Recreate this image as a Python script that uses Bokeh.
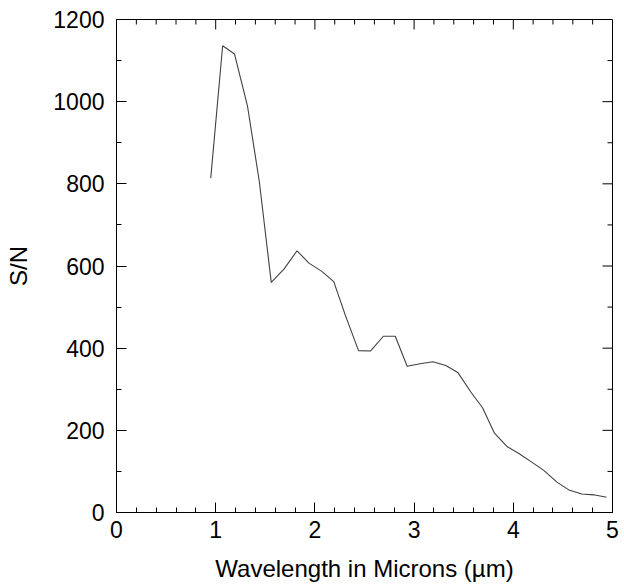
import math
from bokeh.plotting import figure
from bokeh.models import Range1d, LinearAxis, SingleIntervalTicker
from bokeh.embed import file_html
from bokeh.resources import INLINE

wavelength = [0.95, 1.07, 1.19, 1.32, 1.44, 1.56, 1.69, 1.82, 1.94, 2.07, 2.19, 2.31,
              2.44, 2.56, 2.69, 2.81, 2.93, 3.06, 3.19, 3.32, 3.44, 3.57, 3.69, 3.81,
              3.94, 4.06, 4.19, 4.31, 4.44, 4.56, 4.69, 4.81, 4.94]
snr = [814, 1136, 1116, 990, 805, 560, 593, 637, 607, 587, 562, 478,
       394, 393, 429, 429, 356, 362, 367, 358, 341, 294, 255, 193,
       160, 143, 122, 102, 74, 55, 45, 43, 37]

x_major = [0, 1, 2, 3, 4, 5]
y_major = [0, 200, 400, 600, 800, 1000, 1200]
x_minor = [round(a + 0.2 * k, 2) for a in x_major[:-1] for k in range(1, 5)]
y_minor = [a + 100 for a in y_major[:-1]]

x_title = "Wavelength in Microns (µm)"
y_title = "S/N"

FONT = "Liberation Sans"
X0, X1 = 0, 5
Y0, Y1 = 0, 1200

p = figure(width=620, height=584, output_backend="svg", toolbar_location=None,
           x_range=Range1d(X0, X1), y_range=Range1d(Y0, Y1),
           x_axis_location=None, y_axis_location=None,
           min_border_left=116, min_border_right=8, min_border_top=19, min_border_bottom=72)
p.grid.visible = False
p.outline_line_color = "black"
p.background_fill_color = "white"
p.border_fill_color = "white"

def style(ax):
    ax.axis_line_color = "black"
    ax.axis_line_width = 1
    ax.major_tick_in = 10
    ax.major_tick_out = 0
    ax.minor_tick_in = 5
    ax.minor_tick_out = 0
    ax.major_tick_line_color = "black"
    ax.minor_tick_line_color = "black"
    ax.major_label_text_font = FONT
    ax.major_label_text_color = "black"
    ax.major_label_text_font_size = "23px"
    ax.axis_label_text_font = FONT
    ax.axis_label_text_font_style = "normal"
    ax.axis_label_text_color = "black"
    ax.axis_label_text_font_size = "24px"

xb = LinearAxis(ticker=SingleIntervalTicker(interval=1, num_minor_ticks=5), axis_label=x_title)
style(xb)
xb.major_label_standoff = 8
xb.axis_label_standoff = 14
p.add_layout(xb, "below")

yl = LinearAxis(ticker=SingleIntervalTicker(interval=200, num_minor_ticks=2), axis_label=y_title)
style(yl)
yl.major_label_standoff = 12
yl.axis_label_standoff = 18
p.add_layout(yl, "left")

# mirrored inward ticks on the top and right frame edges
p.ray(x=x_major, y=[Y1] * len(x_major), length=10, angle=-math.pi / 2,
      length_units="screen", line_color="black", line_width=1)
p.ray(x=x_minor, y=[Y1] * len(x_minor), length=5, angle=-math.pi / 2,
      length_units="screen", line_color="black", line_width=1)
p.ray(x=[X1] * len(y_major), y=y_major, length=10, angle=math.pi,
      length_units="screen", line_color="black", line_width=1)
p.ray(x=[X1] * len(y_minor), y=y_minor, length=5, angle=math.pi,
      length_units="screen", line_color="black", line_width=1)

p.line(wavelength, snr, line_color="#404040", line_width=1.1)

open("out.html", "w").write(file_html(p, INLINE))
